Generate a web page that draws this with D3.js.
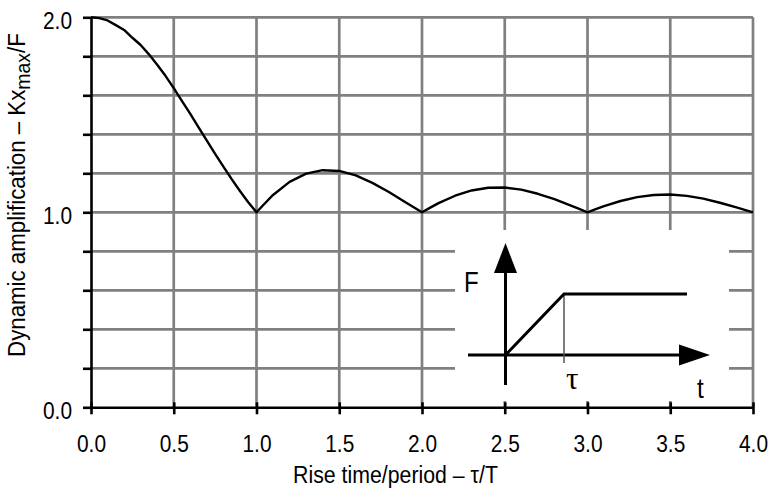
<!DOCTYPE html>
<html><head><meta charset="utf-8">
<script src="https://cdn.jsdelivr.net/npm/d3@7"></script>
<style>
html,body{margin:0;padding:0;background:#fff;}
svg{display:block;font-family:"Liberation Sans",Arial,sans-serif;}
</style></head>
<body><svg id="c" width="768" height="490"></svg>
<script>
// ---- data ----
const riseRatio = [0,0.05,0.1,0.15,0.2,0.25,0.3,0.35,0.4,0.45,0.5,0.55,0.6,0.65,0.7,0.75,0.8,0.85,0.9,0.95,1.0,
  1.05,1.1,1.2,1.3,1.4,1.5,1.6,1.7,1.8,1.9,1.95,2.0,2.05,2.1,2.2,2.3,2.4,2.5,2.6,2.7,2.8,2.9,2.95,3.0,
  3.05,3.1,3.2,3.3,3.4,3.5,3.6,3.7,3.8,3.9,4.0];
const amplification = [2.0,1.996,1.984,1.96,1.935,1.895,1.858,1.81,1.757,1.70,1.637,1.57,1.505,1.435,1.368,1.30,1.234,1.17,1.109,1.052,1.0,
  1.045,1.089,1.156,1.198,1.216,1.212,1.189,1.151,1.104,1.052,1.026,1.0,1.024,1.047,1.085,1.112,1.126,1.127,1.116,1.095,1.067,1.034,1.017,1.0,
  1.016,1.032,1.058,1.078,1.089,1.091,1.084,1.070,1.049,1.025,1.0];
const xTickValues = [0,0.5,1.0,1.5,2.0,2.5,3.0,3.5,4.0];
const yTickValues = [0,0.2,0.4,0.6,0.8,1.0,1.2,1.4,1.6,1.8,2.0];
const yLabelValues = [0,1,2];
const xTitle = "Rise time/period – τ/T";
const yTitleMain = "Dynamic amplification – Kx", yTitleSub = "max", yTitleEnd = "/F";

const svg = d3.select("#c");
const x = d3.scaleLinear().domain([0,4]).range([91,753]);
const y = d3.scaleLinear().domain([0,2]).range([407.3,17.3]);
const GRID = "#808080";
const SX = 0.87; // condensed look

// grid
svg.append("g").selectAll("line").data(yTickValues.filter(v=>v>0)).join("line")
  .attr("x1",x(0)).attr("x2",x(4)).attr("y1",d=>y(d)).attr("y2",d=>y(d))
  .attr("stroke",GRID).attr("stroke-width",2.7);
svg.append("g").selectAll("line").data(xTickValues.filter(v=>v>0)).join("line")
  .attr("x1",d=>x(d)).attr("x2",d=>x(d)).attr("y1",y(0)).attr("y2",y(2))
  .attr("stroke",GRID).attr("stroke-width",2.7);

// curve
svg.append("path").datum(riseRatio.map((r,i)=>[r,amplification[i]]))
  .attr("d",d3.line().x(d=>x(d[0])).y(d=>y(d[1])))
  .attr("fill","none").attr("stroke","#000").attr("stroke-width",2.4).attr("stroke-linejoin","round");

// inset white panel
svg.append("rect").attr("x",455).attr("y",230).attr("width",274).attr("height",171).attr("fill","#fff");

// axes
const xAxis = svg.append("g").attr("transform",`translate(0,${y(0)})`)
  .call(d3.axisBottom(x).tickValues(xTickValues).tickFormat(d3.format(".1f")).tickSize(7).tickSizeOuter(0));
xAxis.select(".domain").attr("stroke","#000").attr("stroke-width",2.6);
xAxis.selectAll(".tick line").attr("y1",-5).attr("stroke-width",2.6);
xAxis.selectAll(".tick text").attr("dy",null).attr("y",null).attr("x",null)
  .attr("transform",`translate(0,45) scale(${SX},1)`).attr("font-size",24).attr("fill","#000");

const yAxis = svg.append("g").attr("transform",`translate(${x(0)},0)`)
  .call(d3.axisLeft(y).tickValues(yTickValues).tickFormat(d=>yLabelValues.includes(Math.round(d*10)/10)?d3.format(".1f")(d):"").tickSize(8).tickSizeOuter(0));
yAxis.select(".domain").attr("stroke","#000").attr("stroke-width",2.6);
yAxis.selectAll(".tick line").attr("stroke-width",2.6);
yAxis.selectAll(".tick text").attr("dy",null).attr("y",null).attr("x",null)
  .attr("transform",`translate(-19,11) scale(${SX},1)`).attr("font-size",24).attr("fill","#000");
svg.selectAll("g").attr("font-family",null);

// titles (squeezed to the reference widths)
const xt = svg.append("text").attr("text-anchor","middle").attr("font-size",24).text(xTitle);
const xtw = xt.node().getComputedTextLength();
xt.attr("transform",`translate(395.5,483) scale(${205/xtw},1)`);

const yt = svg.append("text").attr("text-anchor","middle").attr("font-size",24);
yt.append("tspan").text(yTitleMain);
yt.append("tspan").attr("font-size",21).attr("dy",5).text(yTitleSub);
yt.append("tspan").attr("dy",-5).text(yTitleEnd);
const ytw = yt.node().getBBox().width;
yt.attr("transform",`translate(25,195) rotate(-90) scale(${324/ytw},1)`);

// inset diagram (force ramp)
const g = svg.append("g");
const ox = 505.5, oy = 355;
g.append("line").attr("x1",ox).attr("x2",ox).attr("y1",385).attr("y2",270).attr("stroke","#000").attr("stroke-width",3);
g.append("path").attr("d",`M${ox},243 L${ox-11.5},273 L${ox+11.5},273 Z`).attr("fill","#000");
g.append("line").attr("x1",468).attr("x2",682).attr("y1",oy).attr("y2",oy).attr("stroke","#000").attr("stroke-width",3);
g.append("path").attr("d",`M710,${oy} L679,${oy-10.5} L679,${oy+10.5} Z`).attr("fill","#000");
g.append("line").attr("x1",564).attr("x2",564).attr("y1",294).attr("y2",363).attr("stroke","#555").attr("stroke-width",1.5);
g.append("path").attr("d",`M${ox},${oy} L564,294 L687,294`).attr("fill","none").attr("stroke","#000").attr("stroke-width",3);
g.append("text").attr("transform",`translate(464,292) scale(0.8,1)`).attr("font-size",30).text("F");
g.append("text").attr("transform",`translate(566,389)`).attr("font-size",31).attr("font-family","'Liberation Serif',serif").text("τ");
g.append("rect").attr("x",695).attr("y",377).attr("width",11).attr("height",27).attr("fill","#fff");
g.append("text").attr("transform",`translate(697,398) scale(0.87,1)`).attr("font-size",28).text("t");
</script></body></html>
